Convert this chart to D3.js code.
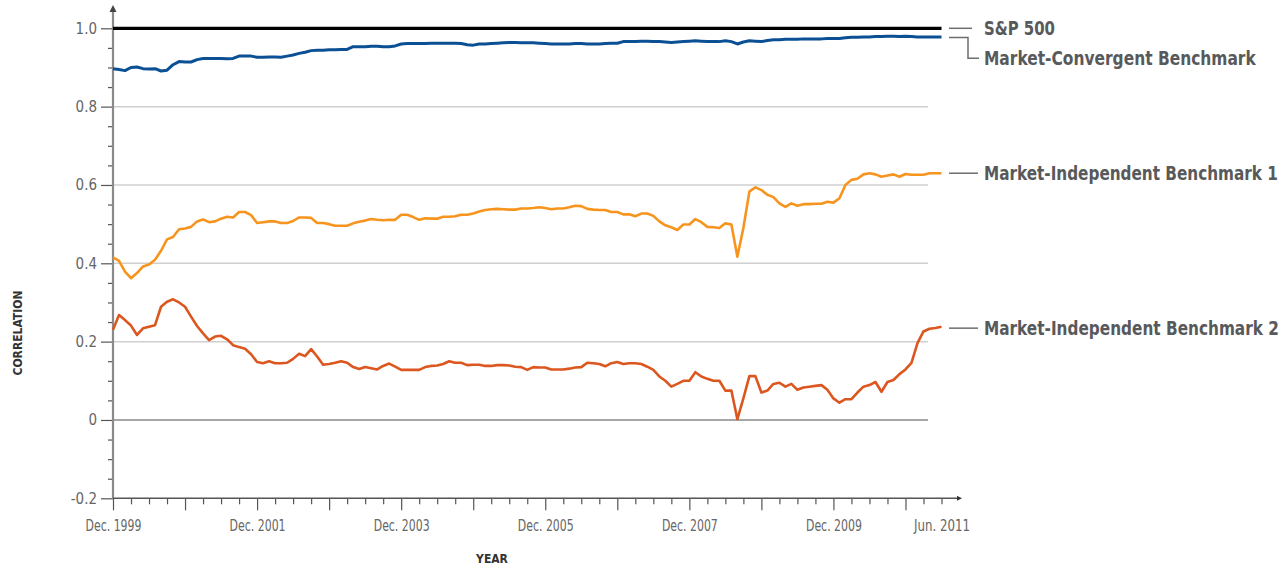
<!DOCTYPE html>
<html>
<head>
<meta charset="utf-8">
<script src="https://cdn.jsdelivr.net/npm/d3@7"></script>
<style>
  html, body { margin: 0; padding: 0; background: #fff; }
  svg { display: block; }
  text { font-family: "Liberation Sans Narrow", "Arial Narrow", "DejaVu Sans Condensed", "Roboto Condensed", sans-serif; }
</style>
</head>
<body>
<svg id="chart" width="1286" height="567"></svg>
<script>
// ---------- DATA (monthly, Dec 1999 = month 0 ... Jun 2011 = month 138) ----------
const seriesNames = ["S&P 500", "Market-Convergent Benchmark", "Market-Independent Benchmark 1", "Market-Independent Benchmark 2"];

const sp500Months = [0, 138];
const sp500 = [1.0, 1.0];

const marketConvergent = [
  .897,.895,.892,.900,.901,.897,.896,.897,.891,.893,.907,.915,.914,.914,.920,.923,.923,.923,.923,.922,
  .923,.929,.929,.929,.926,.926,.927,.927,.926,.929,.932,.936,.939,.943,.944,.944,.945,
  .945,.946,.946,.953,.953,.953,.954,.954,.953,.953,.955,.960,.961,.961,.961,.961,.962,.962,.962,.962,
  .962,.961,.958,.957,.960,.960,.961,.962,.963,.964,.964,.963,.963,.963,.962,.961,.960,.960,.960,.960,
  .961,.961,.960,.960,.960,.961,.962,.962,.966,.966,.966,.967,.967,
  .966,.966,.965,.964,.965,.966,.967,.968,.967,.966,.966,.966,.968,.966,.960,.965,.968,.967,.966,.969,
  .971,.971,.972,.972,.972,.973,.973,.973,.973,.974,.974,.974,.976,.977,.977,.978,.978,.979,.979,.980,
  .980,.979,.980,.979,.978,.978,.978,.978,.978
];

const marketIndependent1 = [
  .415,.406,.379,.362,.375,.392,.397,.409,.432,.461,.467,.487,.489,.493,.507,.512,.505,.507,.514,.519,
  .517,.531,.531,.523,.503,.505,.507,.507,.503,.503,.508,.517,.517,.516,.503,.503,.500,
  .496,.496,.496,.502,.506,.509,.513,.511,.510,.511,.511,.524,.524,.518,.511,.515,.514,.514,.519,.519,
  .520,.524,.524,.527,.532,.536,.538,.539,.538,.537,.537,.540,.540,.541,.543,.541,.538,.540,.540,.543,
  .547,.546,.539,.537,.536,.536,.531,.531,.525,.525,.520,.527,.527,
  .521,.507,.497,.492,.485,.499,.499,.513,.505,.493,.492,.490,.502,.499,.417,.490,.583,.594,.587,.575,
  .569,.553,.544,.553,.547,.551,.551,.552,.552,.557,.555,.566,.600,.613,.616,.627,.630,.627,.621,.624,
  .627,.621,.628,.626,.626,.626,.630,.630,.630
];

const marketIndependent2 = [
  .230,.268,.255,.241,.217,.234,.238,.242,.289,.302,.308,.300,.289,.264,.240,.221,.204,.213,.215,.206,
  .191,.186,.182,.168,.148,.145,.150,.145,.145,.146,.156,.169,.163,.181,.162,.141,.143,
  .146,.150,.146,.135,.130,.135,.132,.129,.138,.144,.136,.128,.128,.128,.128,.135,.138,.139,.143,.150,
  .146,.146,.140,.141,.141,.138,.138,.140,.140,.139,.136,.135,.128,.135,.134,.134,.129,.129,.129,.131,
  .134,.135,.146,.145,.143,.137,.145,.148,.143,.145,.145,.143,.136,
  .128,.111,.100,.085,.092,.100,.100,.122,.111,.105,.100,.100,.075,.075,.002,.055,.112,.112,.070,.075,
  .092,.095,.085,.092,.077,.083,.085,.087,.089,.077,.055,.044,.053,.053,.070,.085,.089,.097,.072,.097,
  .102,.117,.129,.146,.196,.226,.233,.235,.238
];

const xTickMonths = [0, 24, 48, 72, 96, 120, 138];
const xTickLabels = ["Dec. 1999", "Dec. 2001", "Dec. 2003", "Dec. 2005", "Dec. 2007", "Dec. 2009", "Jun. 2011"];
const yMajorTicks = [-0.2, 0, 0.2, 0.4, 0.6, 0.8, 1.0];
const yTickLabels = ["-0.2", "0", "0.2", "0.4", "0.6", "0.8", "1.0"];
const yGridValues = [0.2, 0.4, 0.6, 0.8];

// ---------- LAYOUT ----------
const svg = d3.select("#chart");
const x = d3.scaleLinear().domain([0, 138]).range([113, 941.5]);
const y = d3.scaleLinear().domain([-0.2, 1.0]).range([498.3, 28.3]);
const gridEnd = 928;

const colBlue = "#0b4f95", colOrange = "#f7941d", colRed = "#dc561f";
const labelColor = "#58595b";

// squeeze a text horizontally (around its anchor x) if its natural width exceeds maxW
function fitWidth(sel, maxW, anchorX, anchor) {
  sel.each(function () {
    const w = this.getComputedTextLength();
    if (w > maxW) {
      const k = maxW / w;
      const ax = anchorX !== undefined ? anchorX : +this.getAttribute("x");
      this.setAttribute("transform", `translate(${ax},0) scale(${k},1) translate(${-ax},0)`);
    }
  });
}

const defs = svg.append("defs");
defs.append("marker").attr("id", "arrX").attr("viewBox", "0 0 10 10").attr("refX", 2).attr("refY", 5)
  .attr("markerWidth", 5).attr("markerHeight", 5).attr("markerUnits", "userSpaceOnUse").attr("orient", "auto")
  .append("path").attr("d", "M0,0 L10,5 L0,10 z").attr("fill", "#333");

// gridlines
svg.append("g").selectAll("line").data(yGridValues).join("line")
  .attr("x1", x(0)).attr("x2", gridEnd)
  .attr("y1", d => y(d)).attr("y2", d => y(d))
  .attr("stroke", "#cfcfcf").attr("stroke-width", 1.5);
svg.append("line").attr("x1", x(0)).attr("x2", gridEnd).attr("y1", y(0)).attr("y2", y(0))
  .attr("stroke", "#a6a6a6").attr("stroke-width", 2);

// y axis
const yMinorTicks = d3.range(-0.15, 1.0, 0.05).map(v => +v.toFixed(2)).filter(v => Math.round(v * 100) % 20 !== 0);
const yMinor = svg.append("g").attr("transform", `translate(${x(0)},0)`)
  .call(d3.axisLeft(y).tickValues(yMinorTicks).tickSize(5).tickFormat(""));
const yMajor = svg.append("g").attr("transform", `translate(${x(0)},0)`)
  .call(d3.axisLeft(y).tickValues(yMajorTicks).tickSize(12).tickPadding(4)
    .tickFormat((d, i) => yTickLabels[i]));
[yMinor, yMajor].forEach(g => {
  g.select(".domain").remove();
  g.selectAll("line").attr("stroke", "#555").attr("stroke-width", 1.2);
});
yMajor.selectAll("text").attr("fill", "#666").attr("font-size", 15);
svg.append("line").attr("x1", x(0)).attr("x2", x(0)).attr("y1", y(-0.2) + 0.5).attr("y2", 12)
  .attr("stroke", "#8a8a8a").attr("stroke-width", 2.2);
svg.append("path").attr("d", `M${x(0) - 3.5},12 L${x(0)},5 L${x(0) + 3.5},12 Z`).attr("fill", "#444");

// x axis
const quarterTicks = d3.range(0, 139, 3).filter(m => m % 12 !== 0);
const yearTicks = d3.range(0, 139, 12);
const xMinor = svg.append("g").attr("transform", `translate(0,${y(-0.2)})`)
  .call(d3.axisBottom(x).tickValues(quarterTicks).tickSize(6).tickFormat(""));
const xMajor = svg.append("g").attr("transform", `translate(0,${y(-0.2)})`)
  .call(d3.axisBottom(x).tickValues(yearTicks).tickSize(12).tickFormat(""));
const xLab = svg.append("g").attr("transform", `translate(0,${y(-0.2)})`)
  .call(d3.axisBottom(x).tickValues(xTickMonths).tickSize(0).tickPadding(22)
    .tickFormat((d, i) => xTickLabels[i]));
[xMinor, xMajor, xLab].forEach(g => {
  g.select(".domain").remove();
  g.selectAll("line").attr("stroke", "#555").attr("stroke-width", 1.2);
});
xLab.selectAll("text").attr("fill", "#666").attr("font-size", 15)
  .each(function () {
    const w = this.getComputedTextLength(), maxW = 56;
    if (w > maxW) this.setAttribute("transform", `scale(${maxW / w},1)`);
  });
svg.append("line").attr("x1", x(0)).attr("x2", 958).attr("y1", y(-0.2)).attr("y2", y(-0.2))
  .attr("stroke", "#555").attr("stroke-width", 1.5).attr("marker-end", "url(#arrX)");

// axis titles
svg.append("text").attr("x", 492).attr("y", 563).attr("text-anchor", "middle")
  .attr("font-size", 12).attr("font-weight", "bold").attr("fill", "#333")
  .text("YEAR");
svg.append("text").attr("transform", "translate(21.5,333) rotate(-90)").attr("text-anchor", "middle")
  .attr("font-size", 12).attr("font-weight", "bold").attr("fill", "#333")
  .text("CORRELATION");

// lines
const line = d3.line().x((d, i) => x(i)).y(d => y(d));
svg.append("path").datum(marketIndependent2).attr("d", line)
  .attr("fill", "none").attr("stroke", colRed).attr("stroke-width", 2.6).attr("stroke-linejoin", "round");
svg.append("path").datum(marketIndependent1).attr("d", line)
  .attr("fill", "none").attr("stroke", colOrange).attr("stroke-width", 2.6).attr("stroke-linejoin", "round");
svg.append("path").datum(marketConvergent).attr("d", line)
  .attr("fill", "none").attr("stroke", colBlue).attr("stroke-width", 3).attr("stroke-linejoin", "round");
const spLine = d3.line().x((d, i) => x(sp500Months[i])).y(d => y(d));
svg.append("path").datum(sp500).attr("d", spLine)
  .attr("fill", "none").attr("stroke", "#000").attr("stroke-width", 3.2);

// labels + connectors
const lastMC = marketConvergent[marketConvergent.length - 1];
const lastI1 = marketIndependent1[marketIndependent1.length - 1];
const lastI2 = marketIndependent2[marketIndependent2.length - 1];
const cx0 = 949, cx1 = 972, tx = 984;
const conn = svg.append("g").attr("fill", "none").attr("stroke", "#6d6e70").attr("stroke-width", 1.5);
conn.append("path").attr("d", `M${cx0},${y(1.0)} H${cx1}`);
conn.append("path").attr("d", `M${cx0},${y(lastMC) + 0.6} H${968} V${58.3} H${979}`);
conn.append("path").attr("d", `M${cx0},${y(lastI1)} H${978}`);
conn.append("path").attr("d", `M${cx0},${y(lastI2) + 1.4} H${978}`);

const labelData = [
  { name: seriesNames[0], yy: y(1.0), w: 71 },
  { name: seriesNames[1], yy: 58.3, w: 272 },
  { name: seriesNames[2], yy: y(lastI1), w: 294 },
  { name: seriesNames[3], yy: y(lastI2) + 1.4, w: 295 }
];
const labs = svg.append("g").selectAll("text").data(labelData).join("text")
  .attr("x", tx).attr("y", d => d.yy).attr("dy", "0.36em")
  .attr("font-size", 19.5).attr("font-weight", "bold").attr("fill", labelColor)
  .text(d => d.name);
labs.each(function (d) { fitWidth(d3.select(this), d.w, tx); });
</script>
</body>
</html>
